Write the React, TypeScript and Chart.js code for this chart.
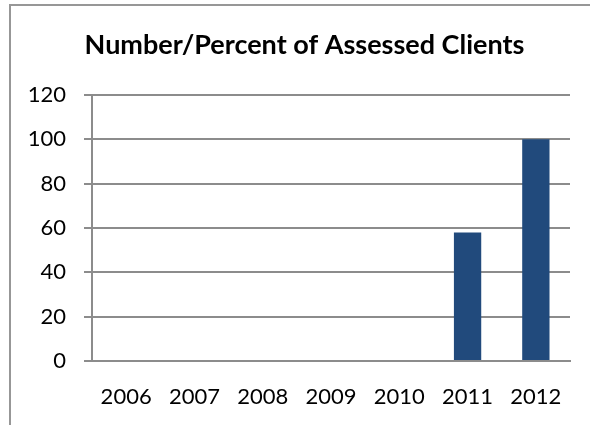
import React, { useEffect, useRef } from "react";
import { Chart, registerables } from "chart.js";

Chart.register(...registerables);

const categories = ["2006", "2007", "2008", "2009", "2010", "2011", "2012"];
const values = [0, 0, 0, 0, 0, 58, 100];
const yTicks = [0, 20, 40, 60, 80, 100, 120];
const titleText = "Number/Percent of Assessed Clients";

const titleShift = {
  id: "titleShift",
  afterLayout(chart: any) {
    const t = chart.titleBlock;
    if (t) {
      t.left = 19;
      t.right = 590;
      t.width = 571;
    }
  },
};

export default function App() {
  const ref = useRef<HTMLCanvasElement | null>(null);

  useEffect(() => {
    const prevMargin = document.body.style.margin;
    document.body.style.margin = "0";
    const canvas = ref.current;
    if (!canvas) return;
    const chart = new Chart(canvas, {
      type: "bar",
      data: {
        labels: categories,
        datasets: [
          {
            data: values,
            backgroundColor: "#214a7c",
            borderWidth: 0,
            categoryPercentage: 1,
            barPercentage: 0.4,
          },
        ],
      },
      options: {
        animation: false,
        responsive: false,
        maintainAspectRatio: false,
        layout: { padding: { left: 0, right: 20, top: 0, bottom: 0 } },
        plugins: {
          legend: { display: false },
          tooltip: { enabled: false },
          title: {
            display: true,
            text: titleText,
            color: "#000",
            font: { family: "Lato", size: 27, weight: "bold", lineHeight: 1.2 },
            padding: { top: 29, bottom: 33.6 },
          },
        },
        scales: {
          x: {
            grid: { display: false },
            border: { display: true, color: "#8c8c8c", width: 2 },
            ticks: {
              color: "#000",
              font: { family: "Lato", size: 22 },
              padding: 15,
              maxRotation: 0,
              autoSkip: false,
            },
            afterFit: (s: any) => {
              s.height = 64;
            },
          },
          y: {
            min: 0,
            max: 120,
            afterBuildTicks: (s: any) => {
              s.ticks = yTicks.map((v) => ({ value: v }));
            },
            grid: { color: "#8c8c8c", lineWidth: 2, tickLength: 8, drawTicks: true },
            border: { display: true, color: "#8c8c8c", width: 2 },
            ticks: {
              color: "#000",
              font: { family: "Lato", size: 22 },
              padding: 18,
            },
            afterFit: (s: any) => {
              s.width = 92;
            },
          },
        },
      },
      plugins: [titleShift],
    });
    return () => {
      chart.destroy();
      document.body.style.margin = prevMargin;
    };
  }, []);

  return (
    <div style={{ position: "absolute", left: 0, top: 0, width: 590, height: 425, overflow: "hidden", background: "#fff" }}>
      <div
        style={{
          position: "absolute",
          left: 9,
          top: 4,
          width: 700,
          height: 600,
          border: "2px solid #979797",
          boxSizing: "border-box",
        }}
      />
      <canvas ref={ref} width={590} height={425} style={{ position: "absolute", left: 0, top: 0, width: 590, height: 425 }} />
    </div>
  );
}
